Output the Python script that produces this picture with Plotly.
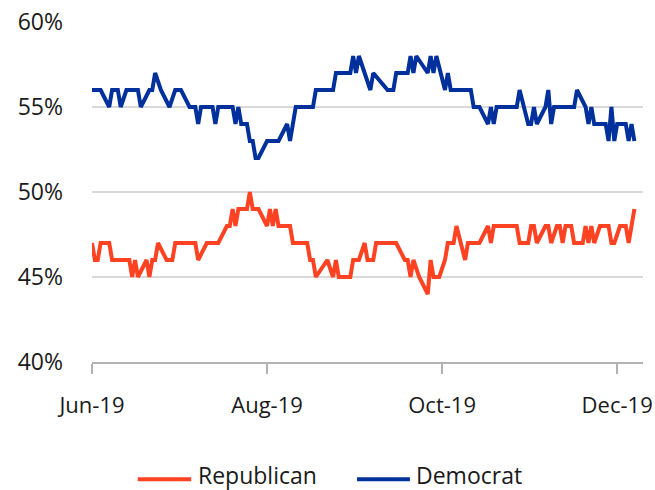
import datetime as dt
import plotly.graph_objects as go

start = dt.date(2019, 6, 1)

# Democrat: (day offset from 1 Jun 2019, percent)
dem_days = [0, 3, 6, 7, 9, 10, 12, 16, 17, 20, 21, 22, 24, 27, 29, 31, 34, 36, 37, 38,
            42, 43, 44, 49, 50, 51, 52, 54, 55, 56, 57, 58, 61, 65, 68, 69, 71, 77, 78, 84,
            85, 90, 91, 92, 93, 95, 97, 98, 103, 105, 106, 110, 111, 112, 113, 117, 118, 119, 120, 123,
            124, 125, 132, 133, 135, 138, 139, 140, 141, 148, 149, 152, 153, 154, 155, 158, 159, 160, 161, 168,
            169, 172, 173, 174, 175, 179, 180, 181, 182, 183, 186, 187, 188, 189]
dem_vals = [56, 56, 55, 56, 56, 55, 56, 56, 55, 56, 56, 57, 56, 55, 56, 56, 55, 55, 54, 55,
            55, 54, 55, 55, 54, 55, 54, 54, 53, 53, 52, 52, 53, 53, 54, 53, 55, 55, 56, 56,
            57, 57, 58, 57, 58, 57, 56, 57, 56, 56, 57, 57, 58, 57, 58, 57, 58, 57, 58, 56,
            57, 56, 56, 55, 55, 54, 55, 54, 55, 55, 56, 54, 54, 55, 54, 55, 56, 54, 55, 55,
            56, 55, 54, 55, 54, 54, 53, 55, 53, 54, 54, 53, 54, 53]

# Republican: (day offset from 1 Jun 2019, percent)
rep_days = [0, 1, 2, 3, 6, 7, 13, 14, 15, 16, 19, 20, 21, 22, 23, 26, 28, 29, 36, 37,
            40, 44, 47, 48, 49, 50, 51, 54, 55, 56, 58, 61, 62, 63, 64, 65, 69, 70, 75, 76,
            77, 78, 82, 84, 85, 86, 90, 91, 93, 95, 96, 98, 99, 106, 109, 110, 111, 112, 114, 117,
            118, 119, 121, 123, 124, 126, 127, 130, 131, 135, 138, 139, 140, 148, 149, 152, 153, 154, 155, 158,
            159, 160, 162, 163, 164, 165, 167, 168, 171, 172, 173, 174, 175, 177, 180, 181, 182, 184, 186, 187,
            188, 189]
rep_vals = [47, 46, 46, 47, 47, 46, 46, 45, 46, 45, 46, 45, 46, 46, 47, 46, 46, 47, 47, 46,
            47, 47, 48, 48, 49, 48, 49, 49, 50, 49, 49, 48, 49, 48, 49, 48, 48, 47, 47, 46,
            46, 45, 46, 45, 46, 45, 45, 46, 46, 47, 46, 46, 47, 47, 46, 46, 45, 46, 45, 44,
            46, 45, 45, 46, 47, 47, 48, 46, 47, 47, 48, 47, 48, 48, 47, 47, 48, 48, 47, 48,
            48, 47, 48, 48, 47, 48, 48, 47, 47, 48, 47, 48, 47, 48, 48, 47, 47, 48, 48, 47,
            48, 49]

series_names = ["Republican", "Democrat"]
tick_dates = ["2019-06-01", "2019-08-01", "2019-10-01", "2019-12-01"]
tick_labels = ["Jun-19", "Aug-19", "Oct-19", "Dec-19"]
y_ticks = [40, 45, 50, 55, 60]
y_labels = ["40%", "45%", "50%", "55%", "60%"]

def to_dates(days):
    return [(start + dt.timedelta(days=d)).isoformat() for d in days]

FONT = "Open Sans"
RED = "#FF4222"
BLUE = "#00309C"
colors = [RED, BLUE]

fig = go.Figure()
fig.add_trace(go.Scatter(x=to_dates(rep_days), y=rep_vals, mode="lines", name=series_names[0],
                         line=dict(color=RED, width=4), showlegend=False))
fig.add_trace(go.Scatter(x=to_dates(dem_days), y=dem_vals, mode="lines", name=series_names[1],
                         line=dict(color=BLUE, width=4), showlegend=False))

# Manual legend below the plot (paper coordinates)
leg_y = -0.345
leg_items = [(0.083, 0.18, 0.188), (0.481, 0.577, 0.585)]
for (x0, x1, xt), name, col in zip(leg_items, series_names, colors):
    fig.add_shape(type="line", xref="paper", yref="paper", x0=x0, x1=x1, y0=leg_y, y1=leg_y,
                  line=dict(color=col, width=4))
    fig.add_annotation(xref="paper", yref="paper", x=xt, y=leg_y + 0.012, text=name,
                       showarrow=False, xanchor="left", yanchor="middle",
                       font=dict(size=23, family=FONT, color="#1a1a1a"))

fig.update_layout(
    width=655, height=490,
    margin=dict(l=92, r=12, t=22, b=128, autoexpand=False),
    paper_bgcolor="white", plot_bgcolor="white",
    font=dict(family=FONT, size=22, color="#1a1a1a"),
    showlegend=False,
    xaxis=dict(type="date", range=["2019-06-01", (start + dt.timedelta(days=192)).isoformat()],
               tickvals=tick_dates, ticktext=tick_labels, showgrid=False,
               showline=True, linecolor="#b3b3b3", linewidth=2,
               ticks="outside", ticklen=10, tickwidth=2, tickcolor="#b3b3b3",
               ticklabelstandoff=13, zeroline=False, tickfont=dict(size=22)),
    yaxis=dict(range=[40, 60], tickvals=y_ticks, ticktext=y_labels,
               showgrid=True, gridcolor="#d9d9d9", gridwidth=2,
               showline=False, zeroline=False, ticks="", ticklabelstandoff=28,
               tickfont=dict(size=23)),
)

fig.write_html("out.html")
